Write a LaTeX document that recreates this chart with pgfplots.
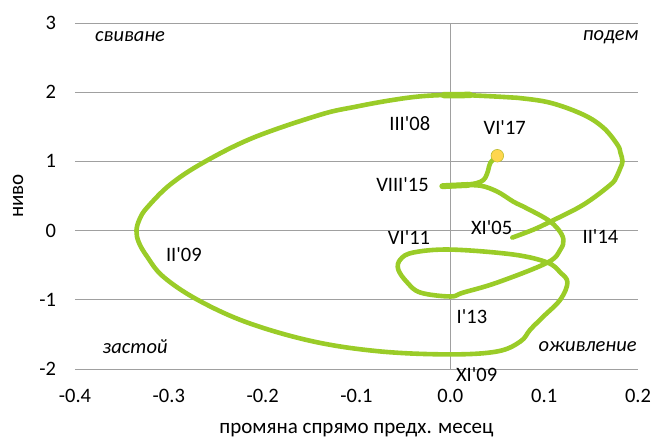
\documentclass[border=0pt]{standalone}
\usepackage{fontspec}
\setmainfont{Carlito}
\usepackage{pgfplots}
\pgfplotsset{compat=1.18}
\definecolor{lime}{RGB}{154,204,40}
\definecolor{gridc}{RGB}{160,160,160}
\definecolor{dotc}{RGB}{255,214,79}
\definecolor{dotb}{RGB}{190,190,50}
\newcommand{\q}{\textquotesingle}
\begin{document}
\fontsize{20.5bp}{24bp}\selectfont
\begin{tikzpicture}
\useasboundingbox (-75bp,-69bp) rectangle (577bp,369bp);
\begin{axis}[
  at={(0,0)}, anchor=south west,
  scale only axis, width=563bp, height=346bp,
  xmin=-0.4, xmax=0.2, ymin=-2, ymax=3,
  axis line style={draw=none},
  major tick length=0pt,
  xtick={-0.4,-0.3,-0.2,-0.1,0,0.1,0.2},
  xticklabels={-0.4,-0.3,-0.2,-0.1,0.0,0.1,0.2},
  ytick={-2,-1,0,1,2,3},
  yticklabels={-2,-1,0,1,2,3},
  ymajorgrids,
  grid style={gridc, line width=0.8bp},
  extra x ticks={0}, extra x tick labels={},
  extra x tick style={grid=major},
  xticklabel style={yshift=-13bp},
  yticklabel style={xshift=-12bp},
  xlabel={промяна спрямо предх. месец},
  ylabel={ниво},
  xlabel style={at={(axis description cs:0.5,-0.176)}, anchor=center, font=\fontsize{21bp}{24bp}\selectfont},
  ylabel style={at={(axis description cs:-0.101,0.5)}, anchor=center, font=\fontsize{21bp}{24bp}\selectfont},
  clip=false,
]
\addplot[lime, line width=4.6bp, smooth, tension=0.6, line cap=round, line join=round] coordinates {
(0.0661,-0.101)
(0.0885,0.014)
(0.1067,0.130)
(0.1419,0.375)
(0.1707,0.664)
(0.1771,0.779)
(0.1813,0.909)
(0.1835,1.000)
(0.1813,1.126)
(0.1781,1.241)
(0.1632,1.486)
(0.1419,1.674)
(0.1067,1.847)
(0.0715,1.919)
(0.0533,1.934)
(0.0213,1.955)
(0.0000,1.962)
(-0.0320,1.940)
(-0.0640,1.882)
(-0.1013,1.789)
(-0.1387,1.674)
(-0.2101,1.342)
(-0.2635,0.981)
(-0.2987,0.664)
(-0.3232,0.332)
(-0.3310,0.170)
(-0.3345,0.000)
(-0.3320,-0.170)
(-0.3232,-0.375)
(-0.3061,-0.664)
(-0.2699,-0.996)
(-0.2165,-1.328)
(-0.1461,-1.602)
(-0.0747,-1.746)
(0.0000,-1.789)
(0.0501,-1.746)
(0.0747,-1.602)
(0.0853,-1.429)
(0.0992,-1.241)
(0.1173,-0.996)
(0.1248,-0.750)
(0.1173,-0.606)
(0.1035,-0.462)
(0.0672,-0.346)
(0.0000,-0.274)
(-0.0395,-0.317)
(-0.0533,-0.418)
(-0.0555,-0.563)
(-0.0459,-0.750)
(-0.0320,-0.895)
(0.0000,-0.952)
(0.0139,-0.895)
(0.0501,-0.750)
(0.1035,-0.462)
(0.1173,-0.274)
(0.1205,-0.130)
(0.1152,0.014)
(0.1035,0.159)
(0.0800,0.332)
(0.0672,0.418)
(0.0501,0.563)
(0.0320,0.649)
(0.0107,0.652)
(-0.0085,0.640)
(0.0200,0.668)
(0.0320,0.705)
(0.0373,0.765)
(0.0405,0.880)
(0.0427,0.981)
(0.0501,1.082)
};
\addplot[lime, line width=6.5bp, line cap=round] coordinates {(-0.0070,1.958) (0.0210,1.960)};
\addplot[lime, line width=6bp, line cap=round] coordinates {(-0.0085,0.642) (0.0190,0.660)};
\addplot[only marks, mark=*, mark size=6.3bp, mark options={fill=dotc, draw=dotb, line width=0.6bp}] coordinates {(0.0501,1.082)};
\node[anchor=east] at (axis cs:-0.014,1.55) {III\q08};
\node at (axis cs:0.058,1.49) {VI\q17};
\node at (axis cs:-0.051,0.66) {VIII\q15};
\node at (axis cs:0.044,0.04) {XI\q05};
\node at (axis cs:-0.044,-0.10) {VI\q11};
\node at (axis cs:0.160,-0.09) {II\q14};
\node at (axis cs:-0.284,-0.35) {II\q09};
\node at (axis cs:0.023,-1.24) {I\q13};
\node at (axis cs:0.028,-2.08) {XI\q09};
\node[anchor=west, font=\itshape] at (axis cs:-0.386,2.80) {свиване};
\node[anchor=east, font=\itshape] at (axis cs:0.208,2.80) {подем};
\node[anchor=west, font=\itshape] at (axis cs:-0.378,-1.68) {застой};
\node[anchor=east, font=\itshape] at (axis cs:0.206,-1.68) {оживление};
\end{axis}
\end{tikzpicture}
\end{document}
